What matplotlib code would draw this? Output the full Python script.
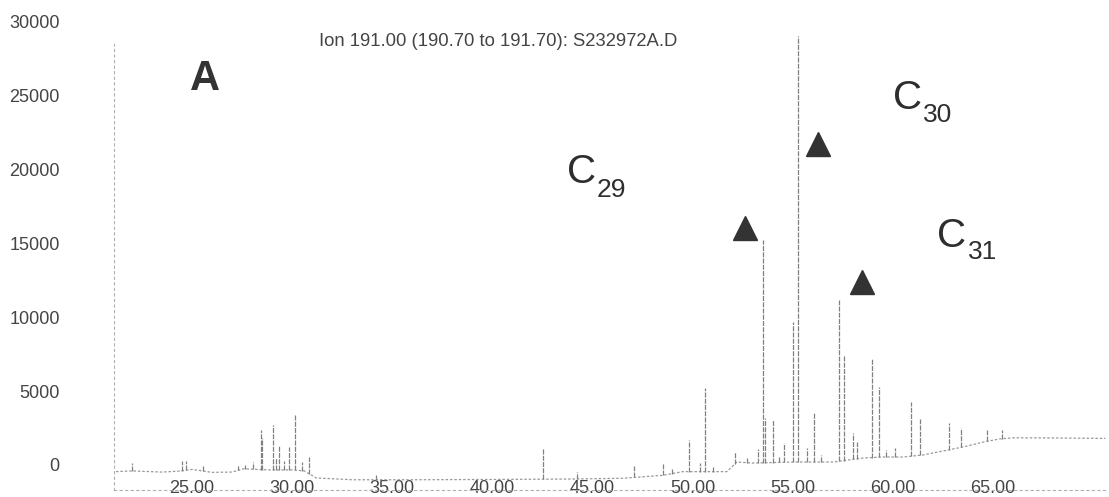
import matplotlib

matplotlib.use("Agg")
import matplotlib.pyplot as plt
import numpy as np

plt.rcParams["font.family"] = ["Liberation Sans", "DejaVu Sans"]

# baseline of the ion trace (retention time, abundance)
base_rt = [21.2, 22.0, 23.5, 24.3, 25.0, 26.0, 27.0, 27.6, 28.2, 29.0, 30.0, 30.6,
           31.2, 33.0, 36.0, 40.0, 44.0, 46.5, 47.5, 48.5, 49.5, 51.7, 52.2, 53.0,
           55.0, 57.0, 58.5, 59.5, 60.5, 61.5, 62.5, 63.5, 64.5, 65.3, 66.0, 68.0, 70.6]
base_val = [-450, -400, -480, -420, -300, -500, -480, -250, -300, -340, -330, -400,
            -880, -1000, -1000, -980, -950, -900, -800, -700, -450, -450, 200, 130,
            200, 200, 470, 540, 540, 680, 950, 1220, 1550, 1760, 1840, 1830, 1800]

# peak apexes
peak_rt = [22.0, 24.5, 24.7, 25.55, 27.3, 27.65, 28.05, 28.43, 28.5, 29.06, 29.2,
           29.36, 29.6, 29.84, 30.13, 30.5, 30.86, 34.2, 42.5, 44.2, 47.07, 48.5,
           48.95, 49.8, 50.36, 50.62, 51.0, 52.1, 52.7, 53.26, 53.49, 53.6, 53.99,
           54.3, 54.55, 54.99, 55.25, 55.7, 56.05, 56.4, 57.3, 57.55, 58.0, 58.2,
           58.96, 59.28, 59.65, 60.1, 60.9, 61.35, 62.8, 63.4, 64.7, 65.42]
peak_h = [130, 290, 250, -70, -100, 0, 200, 2360, 1800, 2700, 500,
          1280, 300, 1200, 3380, 200, 540, -600, 1050, -450, -70, 70,
          -300, 1690, 130, 5200, -100, 900, 500, 1080, 15200, 3180, 3040,
          600, 1490, 9660, 29050, 1150, 3510, 700, 11150, 7430, 2160, 1550,
          7230, 5270, 1010, 1150, 4260, 3110, 2840, 2500, 2360, 2360]

# triangle markers and compound labels
tri_rt = [52.61, 56.25, 58.45]
tri_y = [16010, 21760, 12360]
lab_names = ["29", "30", "31"]
lab_c_rt = [44.42, 60.70, 62.94]
lab_c_y = [19860, 24860, 15470]
lab_sub_rt = [45.22, 61.50, 63.74]
lab_sub_y = [18650, 23720, 14390]

x_ticks = [25, 30, 35, 40, 45, 50, 55, 60, 65]
y_ticks = [0, 5000, 10000, 15000, 20000, 25000, 30000]

fig = plt.figure(figsize=(11.09, 4.97), dpi=100)
ax = fig.add_axes([0.1028, 0.0139, 0.8945, 0.957])

ax.plot(base_rt, base_val, color="#9a9a9a", lw=0.9, ls=(0, (2, 1.5)))
peak_base = np.interp(peak_rt, base_rt, base_val)
ax.vlines(peak_rt, peak_base, peak_h, color="#808080", lw=0.9, linestyles=(0, (4, 1)))

ax.plot(tri_rt, tri_y, "^", color="#333333", markersize=17, ls="none")

for name, cx, cy, sx, sy in zip(lab_names, lab_c_rt, lab_c_y, lab_sub_rt, lab_sub_y):
    ax.text(cx, cy, "C", fontsize=29, color="#2e2e2e", ha="center", va="center")
    ax.text(sx, sy, name, fontsize=19, color="#2e2e2e", ha="left", va="center")

ax.text(25.65, 26150, "A", fontsize=30, fontweight="bold", color="#333333",
        ha="center", va="center")
ax.text(40.28, 28700, "Ion 191.00 (190.70 to 191.70): S232972A.D", fontsize=13.3,
        color="#444444", ha="center", va="center")

ax.set_xlim(21.1, 70.63)
ax.set_ylim(-1700, 30500)
ax.set_xticks(x_ticks)
ax.set_xticklabels([f"{t:.2f}" for t in x_ticks])
ax.set_yticks(y_ticks)
ax.set_yticklabels([str(t) for t in y_ticks])
ax.tick_params(axis="x", length=0, pad=-7, labelsize=13, labelcolor="#444444")
ax.tick_params(axis="y", length=0, pad=39, labelsize=13, labelcolor="#444444")

for side in ["top", "right"]:
    ax.spines[side].set_visible(False)
for side in ["left", "bottom"]:
    ax.spines[side].set_color("#b0b0b0")
    ax.spines[side].set_linestyle((0, (2, 3)))
    ax.spines[side].set_linewidth(0.8)
ax.spines["left"].set_bounds(-1700, 28500)
ax.patch.set_visible(False)

fig.savefig("out.png", dpi=100)
